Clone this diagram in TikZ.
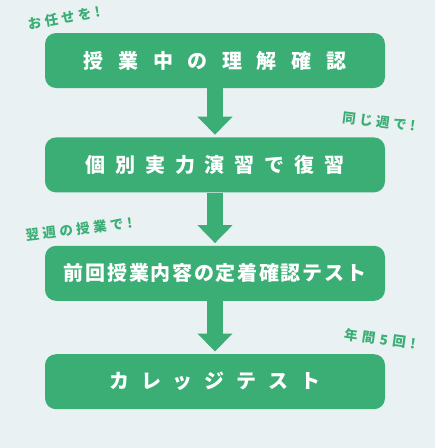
\documentclass[tikz,border=0pt]{standalone}
\usepackage{fontspec}
\newfontfamily\jpfont{Noto Sans CJK JP}
\usetikzlibrary{positioning,arrows.meta}
\definecolor{bggray}{HTML}{E9F1F3}
\definecolor{stepgreen}{HTML}{3AAE74}

% letters with a fixed gap between them
\def\endspaced{\endspaced}
\newcommand\spaced[2]{\def\spgap{#1}\spacedfirst#2\endspaced}
\def\spacedfirst#1{#1\spacedloop}
\def\spacedloop#1{\ifx#1\endspaced\else\hspace{\spgap}#1\expandafter\spacedloop\fi}

\begin{document}
\begin{tikzpicture}
[x=1pt,y=1pt,
box/.style={rectangle,fill=stepgreen,rounded corners=11pt,
minimum width=340pt,minimum height=55pt,inner sep=0pt,
text=white,font=\jpfont\bfseries\fontsize{20}{20}\selectfont},
flow/.style={draw=stepgreen,line width=16pt,
-{Triangle[width=34pt,length=18pt]},shorten >=2.5pt},
tag/.style={text=stepgreen,inner sep=0pt,
font=\jpfont\bfseries\fontsize{13.5}{13.5}\selectfont},
node distance=53pt]

\fill[bggray] (0,0) rectangle (435,-448);
\useasboundingbox (0,0) rectangle (435,-448);

\node [box] (b1) at (215,-60.5) {\spaced{14.6pt}{授業中の理解確認}};
\node [box] (b2) [below=49pt of b1] {\spaced{10pt}{個別実力演習で復習}};
\node [box] (b3) [below=of b2] {\spaced{1.7pt}{前回授業内容の定着確認テスト}};
\node [box] (b4) [below=of b3] {\spaced{12pt}{カレッジテスト}};

\draw [flow] (b1) -- (b2);
\draw [flow] (b2) -- (b3);
\draw [flow] (b3) -- (b4);

% comments on the side
\node [tag,rotate=10] (t1) at (64,-18) {\spaced{3.5pt}{お任せを!}};
\node [tag,rotate=-7] (t2) at (379,-122) {\spaced{3.5pt}{同じ週で!}};
\node [tag,rotate=7] (t3) at (79,-229) {\spaced{3.5pt}{翌週の授業で!}};
\node [tag,rotate=-8] (t4) at (380,-339) {\spaced{4.5pt}{年間5回!}};
\end{tikzpicture}
\end{document}
